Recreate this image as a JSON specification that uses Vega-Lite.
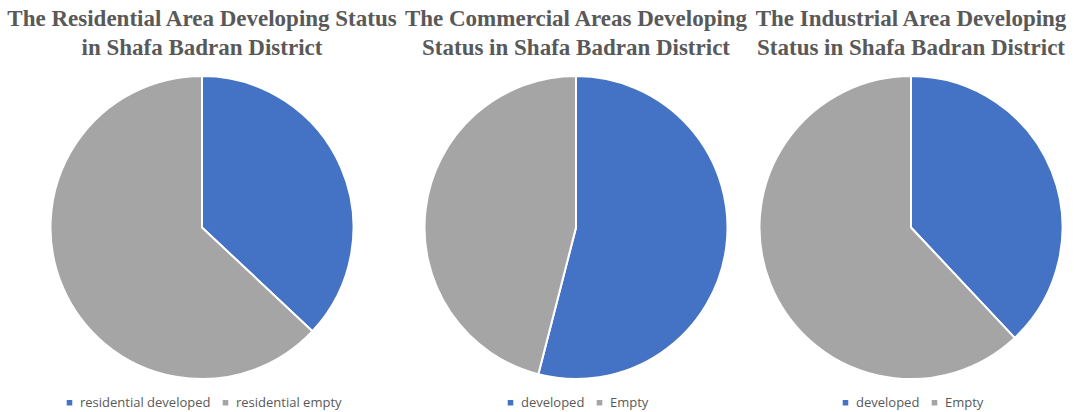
{
  "$schema": "https://vega.github.io/schema/vega-lite/v6.json",
  "background": "white",
  "padding": {"left": 0, "right": 0, "top": 8, "bottom": 0},
  "spacing": 0,
  "bounds": "flush",
  "datasets": {
    "res": [{"status": "residential developed", "value": 37}, {"status": "residential empty", "value": 63}],
    "com": [{"status": "developed", "value": 54}, {"status": "Empty", "value": 46}],
    "ind": [{"status": "developed", "value": 38}, {"status": "Empty", "value": 62}]
  },
  "config": {
    "view": {"stroke": null},
    "title": {"font": "Liberation Serif", "fontSize": 23, "fontWeight": "bold", "color": "#595959", "lineHeight": 29, "offset": 12, "anchor": "middle"},
    "legend": {"orient": "bottom", "direction": "horizontal", "symbolType": "square", "symbolSize": 50, "labelFont": "Open Sans", "labelFontSize": 13, "labelColor": "#595959", "columnPadding": 7, "title": null, "offset": 17, "layout": {"bottom": {"anchor": "middle"}}}
  },
  "resolve": {"scale": {"color": "independent"}},
  "hconcat": [
    {
      "width": 404, "height": 303,
      "title": {"text": ["The Residential Area Developing Status", "in Shafa Badran District"]},
      "data": {"name": "res"},
      "mark": {"type": "arc", "stroke": "white", "strokeWidth": 2},
      "encoding": {
        "theta": {"field": "value", "type": "quantitative", "stack": true},
        "order": {"field": "status", "sort": "ascending"},
        "color": {"field": "status", "type": "nominal", "scale": {"domain": ["residential developed", "residential empty"], "range": ["#4472C4", "#A5A5A5"]}, "legend": {"title": null}}
      }
    },
    {
      "width": 344, "height": 303,
      "title": {"text": ["The Commercial Areas Developing", "Status in Shafa Badran District"]},
      "data": {"name": "com"},
      "mark": {"type": "arc", "stroke": "white", "strokeWidth": 2},
      "encoding": {
        "theta": {"field": "value", "type": "quantitative", "stack": true},
        "order": {"field": "status", "sort": "descending"},
        "color": {"field": "status", "type": "nominal", "scale": {"domain": ["developed", "Empty"], "range": ["#4472C4", "#A5A5A5"]}, "legend": {"title": null}}
      }
    },
    {
      "width": 326, "height": 303,
      "title": {"text": ["The Industrial Area Developing", "Status in Shafa Badran District"]},
      "data": {"name": "ind"},
      "mark": {"type": "arc", "stroke": "white", "strokeWidth": 2},
      "encoding": {
        "theta": {"field": "value", "type": "quantitative", "stack": true},
        "order": {"field": "status", "sort": "descending"},
        "color": {"field": "status", "type": "nominal", "scale": {"domain": ["developed", "Empty"], "range": ["#4472C4", "#A5A5A5"]}, "legend": {"title": null}}
      }
    }
  ]
}
